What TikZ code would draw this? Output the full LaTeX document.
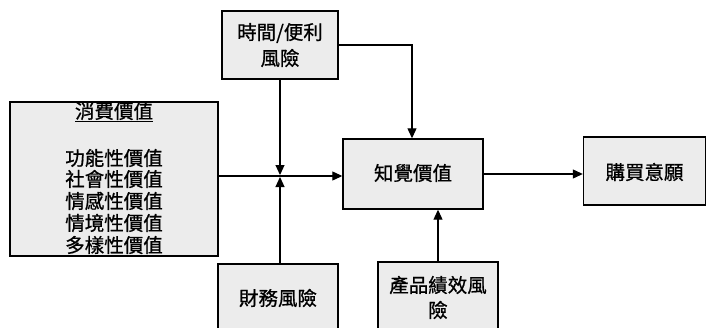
\documentclass[tikz,border=0pt]{standalone}
\usepackage{fontspec}
\newfontfamily\cjk{Noto Sans CJK TC}[FakeBold=0.8]
\usetikzlibrary{arrows.meta,calc}
\tikzset{
  box/.style={draw=black, line width=1.4pt, fill=gray!15, inner sep=0pt},
  lbl/.style={font=\cjk\fontsize{19.5}{24}\selectfont, inner sep=0pt, align=center},
  conn/.style={line width=1.1pt, -{Triangle[length=10pt,width=9pt]}},
  plain/.style={line width=1.1pt}
}
\begin{document}
\begin{tikzpicture}[x=1pt,y=-1pt]
\useasboundingbox (0,0) rectangle (711,327);
\clip (0,0) rectangle (711,327);
\fill[white] (0,0) rectangle (711,327);
% boxes
\node[box, minimum width=208pt, minimum height=154pt] (cons) at (114,179) {};
\node[box, minimum width=116pt, minimum height=68pt] (time) at (280,45) {};
\node[box, minimum width=140pt, minimum height=70pt] (perc) at (413,174) {};
\node[box, minimum width=122pt, minimum height=68pt] (buy) at (644.5,171) {};
\node[box, minimum width=120pt, minimum height=80pt] (fin) at (278,304) {};
\node[box, minimum width=120pt, minimum height=82pt] (prod) at (438,303) {};
% texts
\node[lbl] (t1) at (114,112) {\underline{消費價值}};
\node[lbl] (t2) at (114,158) {功能性價值};
\node[lbl] (t3) at (114,179) {社會性價值};
\node[lbl] (t4) at (114,201) {情感性價值};
\node[lbl] (t5) at (114,223) {情境性價值};
\node[lbl] (t6) at (114,245) {多樣性價值};
\node[lbl] (t7) at (280,33) {時間/便利};
\node[lbl] (t8) at (280,58) {風險};
\node[lbl] (t9) at (413,173) {知覺價值};
\node[lbl] (t10) at (644.5,172) {購買意願};
\node[lbl] (t11) at (278,298) {財務風險};
\node[lbl] (t12) at (438,285) {產品績效風};
\node[lbl] (t13) at (438,310) {險};
% connectors
\coordinate (j) at (280,176);
\draw[conn] (cons.east |- j) -- (perc.west |- j);
\draw[conn, shorten >=1pt] (time.south -| j) -- (j);
\draw[conn, shorten >=1pt] (fin.north -| j) -- (j);
\draw[conn] (time.east) -| (412,0 |- perc.north);
\draw[conn] (prod.north) -- (prod.north |- perc.south);
\draw[conn] (perc.east) -- (buy.west |- perc.east);
\end{tikzpicture}
\end{document}
